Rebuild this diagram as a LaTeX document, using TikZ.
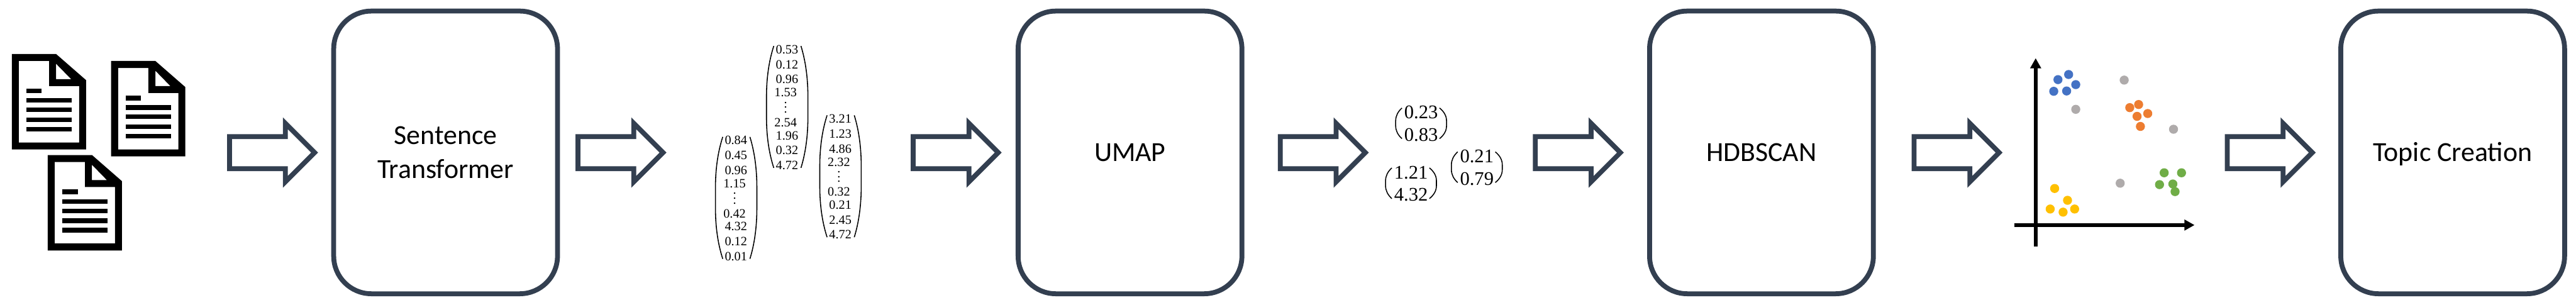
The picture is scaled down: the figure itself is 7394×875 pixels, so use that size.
\documentclass[tikz,border=0pt]{standalone}
\usepackage{fontspec}
\usepackage{amsmath}
\newfontfamily\boxfont{Carlito}
\newfontfamily\numfont{Liberation Serif}
\usetikzlibrary{shapes.arrows,arrows.meta}
\definecolor{slate}{HTML}{333F50}
\definecolor{dotblue}{HTML}{4472C4}
\definecolor{dotorange}{HTML}{ED7D31}
\definecolor{dotgreen}{HTML}{70AD47}
\definecolor{dotyellow}{HTML}{FFC000}
\definecolor{dotgrey}{HTML}{AFABAB}
\tikzset{
  stagebox/.style={draw=slate,line width=1.4mm,rounded corners=1.08cm,minimum width=6.42cm,minimum height=8.11cm,inner sep=0pt,outer sep=0pt,
    font=\boxfont\fontsize{22.5}{27.9}\selectfont,align=center},
  oneline/.style={text height=0.51cm,text depth=0pt},
  blockarrow/.style={shape=single arrow,draw=slate,fill=white,line width=1.4mm,inner xsep=0pt,inner ysep=0.39cm,outer sep=0pt,
    minimum height=2.44cm,single arrow tip angle=90,single arrow head extend=0.38cm,anchor=tail},
  numsmall/.style={inner sep=0pt,font=\numfont\fontsize{10.4}{12}\selectfont},
  numbig/.style={inner sep=0pt,font=\numfont\fontsize{15.7}{18}\selectfont},
  parenline/.style={line width=0.8pt,black},
  axisline/.style={line width=1mm,black,-{Triangle[length=2.9mm,width=3mm]}},
  dot/.style={fill=#1},
}
% paren: tip x, belly x, top y, bottom y
\newcommand{\bracecurve}[4]{%
  \draw[parenline] (#1,#3) .. controls ({#2+0.35*(#1-#2)},{#3+0.12*(#4-#3)}) and (#2,{#3+0.26*(#4-#3)}) .. (#2,{#3+0.42*(#4-#3)})
     -- (#2,{#4-0.42*(#4-#3)}) .. controls (#2,{#4-0.26*(#4-#3)}) and ({#2+0.35*(#1-#2)},{#4-0.12*(#4-#3)}) .. (#1,#4);}
% long vector: name, x offset, y offset, entries
\newcommand{\longvec}[4]{%
  \begin{scope}[shift={(#2,#3)}]
    \bracecurve{2221}{2200}{132}{482}
    \bracecurve{2299}{2319}{132}{482}
    \foreach \i/\x/\y/\t in {#4}
      \node[numsmall] (#1-\i) at (\x,\y) {\t};
  \end{scope}}
% short vector: name, centre x, top row y, top, bottom
\newcommand{\shortvec}[5]{%
  \begin{scope}[shift={(#2,#3)}]
    \bracecurve{-55}{-73}{-13}{75}
    \bracecurve{53}{73}{-13}{75}
    \node[numbig] (#1-a) at (0,0) {#4};
    \node[numbig] (#1-b) at (0,64) {#5};
  \end{scope}}
% document icon
\newcommand{\docicon}[3]{%
  \begin{scope}[shift={(#2,#3)}]
    \fill[black,even odd rule] (0,0) -- (127,0) -- (213,75) -- (213,274) -- (0,274) -- cycle
      (20,20) -- (107,20) -- (107,92) -- (193,92) -- (193,254) -- (20,254) -- cycle
      (127,28) -- (127,72) -- (170,72) -- cycle;
    \foreach \a/\b/\c in {99/113/86,126.5/140/172,154/167/172,182/195/172,209/222/172}
      \fill[black] (42,\a) rectangle (\c,\b);
  \end{scope}
  \coordinate (#1) at (#2,#3);}
\begin{document}
\begin{tikzpicture}[x=0.01cm,y=-0.01cm]
\fill[white] (0,0) rectangle (7394,875);
\useasboundingbox (0,0) rectangle (7394,875);
% documents
\docicon{doca}{34}{155}
\docicon{docb}{319}{175}
\docicon{docc}{137}{445}
% stage boxes
\node[stagebox] (st) at (1279,437.5) {Sentence\\Transformer};
\node[stagebox,oneline] (um) at (3243.5,437.5) {UMAP};
\node[stagebox,oneline] (hd) at (5056,437.5) {HDBSCAN};
\node[stagebox,oneline] (tc) at (7040,437.5) {Topic Creation};
% block arrows
\node[blockarrow] (ar1) at (659,438) {};
\node[blockarrow] (ar2) at (1659,438) {};
\node[blockarrow] (ar3) at (2621,438) {};
\node[blockarrow] (ar4) at (3675,438) {};
\node[blockarrow] (ar5) at (4407,438) {};
\node[blockarrow] (ar6) at (5494,438) {};
\node[blockarrow] (ar7) at (6393,438) {};
% long vectors
\longvec{va}{-146.5}{261}{1/2259/142/0.84,2/2259/185/0.45,3/2259/228/0.96,4/2255/266/1.15,5/2255/298/$\vdots$,6/2255/352/0.42,7/2259/389/4.32,8/2259/432/0.12,9/2259/475/0.01}
\longvec{vb}{0}{0}{1/2259/142/0.53,2/2259/185/0.12,3/2259/228/0.96,4/2255/266/1.53,5/2255/298/$\vdots$,6/2255/352/2.54,7/2259/389/1.96,8/2259/432/0.32,9/2259/475/4.72}
\longvec{vc}{153}{199}{1/2259/142/3.21,2/2259/185/1.23,3/2259/228/4.86,4/2255/266/2.32,5/2255/298/$\vdots$,6/2255/352/0.32,7/2259/389/0.21,8/2259/432/2.45,9/2259/475/4.72}
% short vectors
\shortvec{sa}{4079}{323}{0.23}{0.83}
\shortvec{sb}{4050}{495}{1.21}{4.32}
\shortvec{sc}{4239}{449}{0.21}{0.79}
% axes
\coordinate (yb) at (5843,708);
\coordinate (yt) at (5843,167);
\coordinate (xl) at (5781,646);
\coordinate (xr) at (6299,646);
\draw[axisline] (yb) -- (yt);
\draw[axisline] (xl) -- (xr);
% clusters
\foreach \c/\pts in {dotblue/{843/255,795/288,875/320,776/363,834/361},
  dotgrey/{1093/291,875/479,1315/607,1075/954},
  dotorange/{1158/448,1118/468,1199/506,1151/524,1166/589},
  dotgreen/{1273/887,1351/887,1252/963,1312/959,1322/1008},
  dotyellow/{780/988,838/1064,760/1120,870/1120,818/1140}}
  \foreach \px/\py in \pts
    \fill[dot=\c] ({5400+\px/1.568},{100+\py/2.24}) circle (13);
\end{tikzpicture}
\end{document}
